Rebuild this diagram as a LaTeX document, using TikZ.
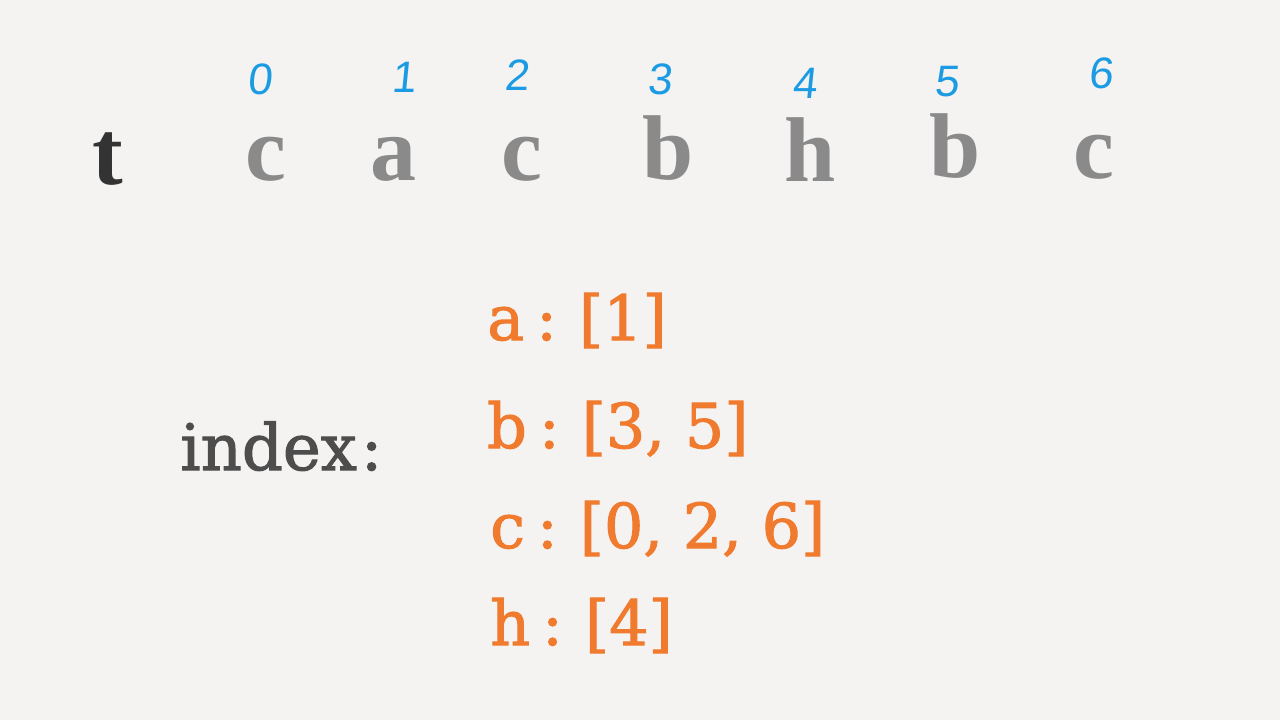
\documentclass[tikz,border=0pt]{standalone}
\usepackage{fontspec}
\setmainfont{DejaVu Serif}
\newfontfamily\topfont{Liberation Serif}
\newfontfamily\digfont{Liberation Sans}
\newfontfamily\entryfont[FakeBold=1.6]{DejaVu Serif}
\definecolor{bg}{HTML}{F4F3F1}
\definecolor{lettergray}{HTML}{8A8A8A}
\definecolor{tdark}{HTML}{333333}
\definecolor{idxblue}{HTML}{1A9BE3}
\definecolor{idxorange}{HTML}{F07A2E}
\definecolor{idxgray}{HTML}{4D4D4D}
\newcommand{\colsep}[1]{#1\hspace{12pt}:\hspace{22pt}}
\tikzset{
  letter/.style={font=\topfont\bfseries\fontsize{92}{92}\selectfont, text=lettergray, anchor=base, inner sep=0pt},
  digit/.style={font=\digfont\fontsize{44}{44}\selectfont, text=idxblue, anchor=base, inner sep=0pt, xslant=0.1},
  entry/.style={font=\entryfont\fontsize{62}{62}\selectfont, text=idxorange, anchor=base west, inner sep=0pt},
}
\begin{document}
\begin{tikzpicture}[x=1pt,y=-1pt]
\fill[bg] (0,0) rectangle (1280,720);
\useasboundingbox (0,0) rectangle (1280,720);
% string t
\node[letter, text=tdark] (t) at (108,184) {t};
\node[letter] (c0) at (266,180) {c};
\node[letter] (a1) at (393,180) {a};
\node[letter] (c2) at (522,180) {c};
\node[letter] (b3) at (668,179) {b};
\node[letter] (h4) at (810,181) {h};
\node[letter] (b5) at (955,177) {b};
\node[letter] (c6) at (1094,178) {c};
% indices
\node[digit] (d0) at (260,94) {0};
\node[digit] (d1) at (404,92) {1};
\node[digit] (d2) at (517,90) {2};
\node[digit] (d3) at (660,94) {3};
\node[digit] (d4) at (805,98) {4};
\node[digit] (d5) at (947,96) {5};
\node[digit] (d6) at (1101,88) {6};
% index map
\node[font=\entryfont\fontsize{64}{64}\selectfont, text=idxgray, anchor=base west, inner sep=0pt] (idx) at (180,470) {index\hspace{4pt}:};
\node[entry] (ea) at (487,340) {\colsep{a}[1]};
\node[entry] (eb) at (487,448) {\colsep{b}[3, 5]};
\node[entry] (ec) at (490,548) {\colsep{c}[0, 2, 6]};
\node[entry] (eh) at (490,645) {\colsep{h}[4]};
\end{tikzpicture}
\end{document}
